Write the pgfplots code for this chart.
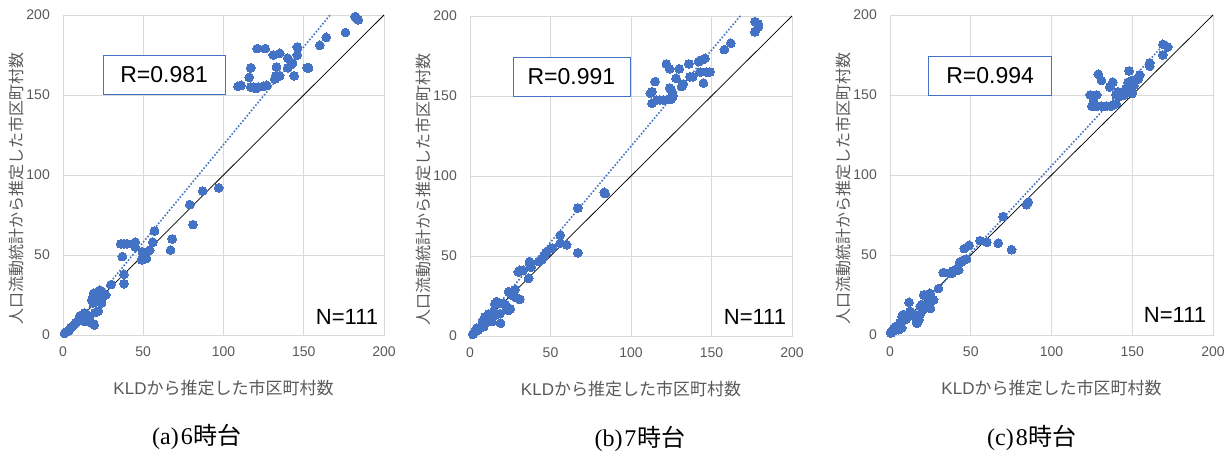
\documentclass[border=0pt]{standalone}
\usepackage{pgfplots}
\pgfplotsset{compat=1.18}
\usepackage{fontspec}
\setmainfont{Liberation Sans}
\newfontfamily\jp{Noto Sans CJK JP}
\newfontfamily\tms{Liberation Serif}
\definecolor{xblue}{HTML}{4472C4}
\definecolor{xgrid}{HTML}{D9D9D9}
\definecolor{xtext}{HTML}{595959}
\pgfplotsset{
 kld/.style={
  scale only axis, height=320pt, anchor=south west,
  xmin=0,xmax=200,ymin=0,ymax=200,
  xtick={0,50,...,200}, ytick={0,50,...,200},
  grid=major, major grid style={draw=xgrid, line width=0.75pt},
  axis line style={draw=xgrid, line width=0.75pt},
  major tick length=0pt, tick style={draw=none},
  /pgf/number format/assume math mode=true,
  tick label style={font=\fontsize{14}{14}\selectfont, text=xtext, inner sep=0pt},
  xticklabel style={anchor=north, yshift=-12pt},
  yticklabel style={anchor=east, xshift=-13pt},
  every axis x label/.style={at={([yshift=-53pt]axis description cs:0.5,0)}, anchor=center, font=\fontsize{17}{17}\selectfont, text=xtext},
  every axis y label/.style={at={([xshift=-47pt,yshift=-14pt]axis description cs:0,0.5)}, rotate=90, anchor=center, inner sep=0pt, font=\fontsize{16}{16}\selectfont, text=xtext},
  xlabel={KLD{\jp から推定した市区町村数}},
  ylabel={{\jp 人口流動統計から推定した市区町村数}},
 },
 pts/.style={only marks, mark=*, mark size=4.4pt, mark options={fill=xblue, draw=xblue, line width=0pt}},
 trend/.style={xblue, line width=1.6pt, dash pattern=on 1.6pt off 1.8pt},
 ident/.style={black, line width=0.75pt},
}
\tikzset{
 rbox/.style={draw=xblue, line width=0.75pt, fill=white, minimum height=39pt, inner sep=0pt, font=\fontsize{23}{23}\selectfont},
 ntext/.style={font=\fontsize{22}{22}\selectfont},
}
\pgfplotstableread{
x y
182 199
184 197
183 198
176 189
164 186
160 181
146 180
146 175
143 170
140 173
140 167
144 162
135 176
131 175
126 179
121 179
133 167.5
132.5 162
135 162
153 167
152 167
117 167
116 161
117 155
119 155
122 155
125 155.5
127 156
109 155.4
111 156
132 160
142 169
120 154
97 92
87 90
79 81.5
81 69
68 60
67 53
57 65
56 58
54 53
52 48
49.5 52
49 47
51 47.5
45 58
45 55
40 57
36 57
38 57
37 49
38 38
38 32
30 31.5
25 26
23 28
19 26
21 24
18 22
20 21
23 21
24 20
22 15
20 14
12 12.7
14.5 12.7
16.6 11.7
19 7
15.6 8.5
13.5 8.5
10 9.6
8 7.5
6 5.4
4 3.3
2 2
1 1
3 2.3
7 6.5
11.4 10.6
10.4 11.7
13.5 13.8
23 25
25 24
26.6 25
18.7 20
21 21
22 27
20 23
17.9 7.3
19.5 6.25
14.7 9.4
11.6 11.5
5 4.5
9 8.5
24 22
22 26
}\dataA
\pgfplotstableread{
x y
177 196.5
179 195
179 193
177 190
162 183
158 179
146 173.5
144 172.5
142 171.5
136 170
130 167
122 170
124 167
124 155
125 154
115 159
147 165
149 165
143 165
145 158
138.3 162
136.6 162
131.5 156
132.5 157.5
128 161
112 151.7
113 152.7
113 145.4
116 147.5
118 147.5
120 147.5
123 147.9
125 148
126 150
83.4 89.8
84 89
67 80
67 52
60 57
56 58
56 63
51 55
48 53
46 50
47 52
44.5 47.5
42.6 46.5
37 45.4
37 46.5
38 43
36.4 36
31 41
33 41
30 40
31 23
25 27
28 29
24 16
25 17
20.7 20.4
16.6 21.5
17.6 20.4
15.5 20
19 8
16.6 13.75
14.5 15
13.5 9
11.4 13.75
9.3 12
7.2 6.9
6.2 4.8
5.2 3.75
3.1 2.7
1.7 1
4 4.8
8.3 10
18.6 14
15.5 13
12.8 10.4
24 27.7
25.7 25.6
28.2 24
30.6 23
22 19.4
23 16.7
13.7 13.1
11.6 10
8.5 5.8
5.4 4.2
2 1.5
10 9
}\dataB
\pgfplotstableread{
x y
169 181.7
172 180
169 175
160.8 170
160.8 168
154.6 162.5
153.6 160
148 165
149.5 159
148 156
146 154
147.4 158
148.5 153
145 150
141 152
140 150
142 149
138 158
136 155
129 163
131 159
124 150
128 150
126 147
125 143
128 143
131 143
134 143
137 143
140 144.5
127 142.8
151 156
150 151
85.6 83
84.5 81.4
70 74
75.3 53.3
67 57.4
60 58
55.7 59
49 56
46 54
47.4 47.5
46.4 47
44 46
43 45
41 41
39 40
37 38.7
33 39
42.5 40.6
44.6 45.8
30 29
26.8 22
25.8 21
24.7 26
21.6 25
24.7 17
19.6 19
20.6 16
18.5 12.7
16.5 8.5
17.5 10.6
11.8 20.4
9.3 11.7
8.2 12.7
6.2 7.5
7.2 4.4
5.2 3.3
2 2.3
1 1.7
3 3.7
0.5 1.2
12.4 14.8
14.4 12.7
23.9 20
27 22
25 16.6
15.7 11.5
17.8 9.4
16.7 7.3
7.4 11.5
3.3 5.2
0.8 2
2.3 4.2
20.8 25
18.8 18
10 10
38.4 38.6
}\dataC
\begin{document}
\begin{tikzpicture}[x=1pt,y=1pt]
\path[use as bounding box] (0,0) rectangle (1232,457);
% panel a
\begin{axis}[kld, at={(63pt,122pt)}, width=321pt]
\addplot[pts] table[x=x,y=y] {\dataA};
\addplot[ident] coordinates {(0,0) (200,200)};
\addplot[trend] coordinates {(1.5,-1.17) (184,221.5)};
\node[rbox, minimum width=122pt] at (axis cs:63,162.8) {R=0.981};
\node[ntext] at (axis cs:177,11.5) {N=111};
\end{axis}
% panel b
\begin{axis}[kld, at={(470pt,121pt)}, width=322pt]
\addplot[pts] table[x=x,y=y] {\dataB};
\addplot[ident] coordinates {(0,0) (200,200)};
\addplot[trend] coordinates {(1.7,0.64) (179,213.4)};
\node[rbox, minimum width=117pt] at (axis cs:63,162) {R=0.991};
\node[ntext] at (axis cs:177,12) {N=111};
\end{axis}
% panel c
\begin{axis}[kld, at={(890pt,122pt)}, width=323pt]
\addplot[pts] table[x=x,y=y] {\dataC};
\addplot[ident] coordinates {(0,0) (200,200)};
\addplot[trend] coordinates {(0.5,-2.76) (172,184.2)};
\node[rbox, minimum width=123pt] at (axis cs:62,162.2) {R=0.994};
\node[ntext] at (axis cs:176.5,12.5) {N=111};
\end{axis}
\node[font=\fontsize{24}{24}\selectfont\tms] at (197,20) {(a)\kern2pt 6\kern1pt{\jp 時台}};
\node[font=\fontsize{24}{24}\selectfont\tms] at (640,18) {(b)\kern2pt 7\kern1pt{\jp 時台}};
\node[font=\fontsize{24}{24}\selectfont\tms] at (1032,19) {(c)\kern2pt 8\kern1pt{\jp 時台}};
\end{tikzpicture}
\end{document}
